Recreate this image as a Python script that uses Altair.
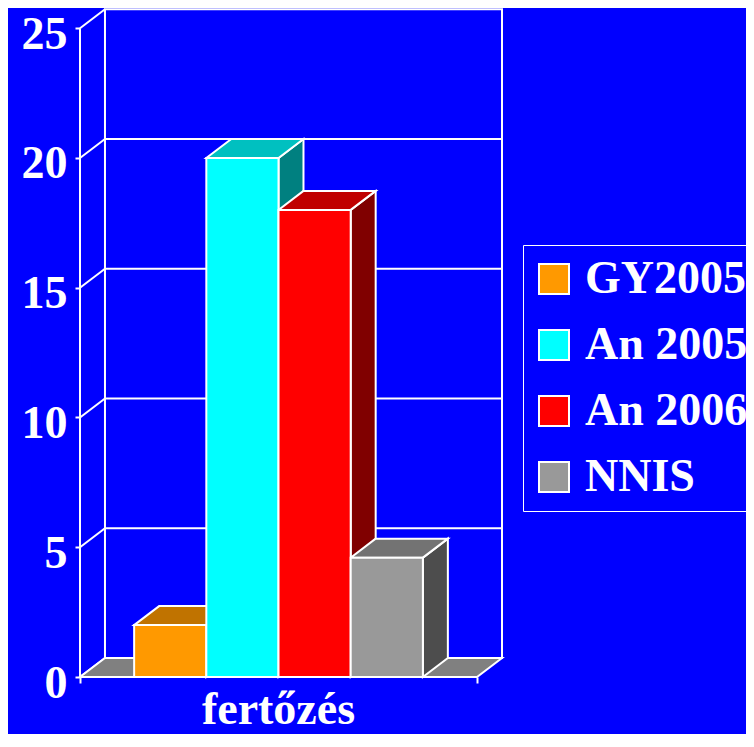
import altair as alt
import pandas as pd

# ---- data ----
series = ["GY2005", "An 2005", "An 2006", "NNIS"]
values = [2.0, 20.0, 18.0, 4.6]
front_colors = ["#FF9900", "#00FFFF", "#FF0000", "#999999"]
top_colors = ["#C07300", "#00C0C0", "#C00000", "#737373"]
side_colors = ["#804D00", "#008080", "#800000", "#4D4D4D"]
y_ticks = [0, 5, 10, 15, 20, 25]
category = "fertőzés"

# ---- 3-D frame geometry (style) ----
GAP = 0.75          # half of the 150% gap, in bar widths
DX = 0.346          # depth shift along x (bar widths)
DY = 0.732          # depth shift along y (value units)
YMAX = 25
n = len(series)
CAT_W = n + 2 * GAP
X_DOMAIN = [0, CAT_W + DX]
Y_DOMAIN = [0, 25.78]

FONT = "Liberation Serif"
BLUE = "#0000FF"

xs = alt.Scale(domain=X_DOMAIN, nice=False, zero=False)
ys = alt.Scale(domain=Y_DOMAIN, nice=False, zero=False)

x_axis = alt.Axis(values=[0, CAT_W], labels=False, domain=False, grid=False,
                  ticks=True, tickColor="white", tickWidth=2, tickSize=6, title=None)
y_axis = alt.Axis(values=y_ticks, domain=False, grid=False, ticks=True,
                  tickColor="white", tickWidth=2, tickSize=5, title=None,
                  labelFont=FONT, labelFontSize=46, labelFontWeight="bold",
                  labelColor="white", labelPadding=8, labelOffset=6)

front = pd.DataFrame({
    "series": series,
    "x0": [GAP + i for i in range(n)],
    "x1": [GAP + i + 1 for i in range(n)],
    "y0": [0] * n,
    "v": values,
})

top_rows, side_rows = [], []
for i, (s, v) in enumerate(zip(series, values)):
    x0, x1 = GAP + i, GAP + i + 1
    top_rows.append({"series": s, "y": v, "x": x0, "x2": x1, "fill": top_colors[i]})
    top_rows.append({"series": s, "y": v + DY, "x": x0 + DX, "x2": x1 + DX, "fill": top_colors[i]})
    side_rows.append({"series": s, "x": x1, "y": v, "y2": 0, "fill": side_colors[i]})
    side_rows.append({"series": s, "x": x1 + DX, "y": v + DY, "y2": DY, "fill": side_colors[i]})
tops = pd.DataFrame(top_rows)
sides = pd.DataFrame(side_rows)

wall = pd.DataFrame({"x": [DX], "x2": [CAT_W + DX], "y": [DY], "y2": [YMAX + DY]})
grid_back = pd.DataFrame({"v": [t + DY for t in y_ticks[1:-1]], "x": DX, "x2": CAT_W + DX})
diag = pd.DataFrame({"y": y_ticks, "y2": [t + DY for t in y_ticks], "x": 0, "x2": DX})
floor = pd.DataFrame({"y": [0, DY], "x": [0, DX], "x2": [CAT_W, CAT_W + DX]})
front_axis = pd.DataFrame({"x": [0], "y": [0], "y2": [YMAX]})
label_df = pd.DataFrame({"label": [category], "x": [CAT_W / 2], "y": [0]})


def X(f):
    return alt.X(f, scale=xs, axis=x_axis)


def Y(f):
    return alt.Y(f, scale=ys, axis=y_axis)


wall_l = alt.Chart(wall).mark_rect(fill=BLUE, stroke="white", strokeWidth=2).encode(
    x=X("x:Q"), x2="x2:Q", y=Y("y:Q"), y2="y2:Q")

grid_l = alt.Chart(grid_back).mark_rule(color="white", strokeWidth=2).encode(
    x=X("x:Q"), x2="x2:Q", y=Y("v:Q"))

diag_l = alt.Chart(diag).mark_rule(color="white", strokeWidth=2).encode(
    x=X("x:Q"), x2="x2:Q", y=Y("y:Q"), y2="y2:Q")

floor_l = alt.Chart(floor).mark_area(orient="horizontal", fill="#808080",
                                     stroke="white", strokeWidth=2).encode(
    y=Y("y:Q"), x=X("x:Q"), x2="x2:Q")

faxis_l = alt.Chart(front_axis).mark_rule(color="white", strokeWidth=2).encode(
    x=X("x:Q"), y=Y("y:Q"), y2="y2:Q")

side_l = alt.Chart(sides).mark_area(orient="vertical", stroke="white", strokeWidth=2).encode(
    x=X("x:Q"), y=Y("y:Q"), y2="y2:Q",
    fill=alt.Fill("fill:N", scale=None), detail="series:N")

top_l = alt.Chart(tops).mark_area(orient="horizontal", stroke="white", strokeWidth=2).encode(
    y=Y("y:Q"), x=X("x:Q"), x2="x2:Q",
    fill=alt.Fill("fill:N", scale=None), detail="series:N")

front_l = alt.Chart(front).mark_rect(stroke="white", strokeWidth=2).encode(
    x=X("x0:Q"), x2="x1:Q", y=Y("y0:Q"), y2="v:Q",
    fill=alt.Fill("series:N", scale=alt.Scale(domain=series, range=front_colors),
                  legend=alt.Legend(orient="none", legendX=443, legendY=237, title=None,
                                    symbolType="square", symbolSize=900,
                                    symbolStrokeColor="white", symbolStrokeWidth=2,
                                    symbolOpacity=1, symbolOffset=-3,
                                    labelFont=FONT, labelFontSize=46, labelFontWeight="bold",
                                    labelColor="white", labelLimit=0, labelOffset=8,
                                    rowPadding=20, padding=11, strokeColor="white")),
)

text_l = alt.Chart(label_df).mark_text(dy=47, baseline="alphabetic", align="center",
                                       fontSize=46, fontWeight="bold", font=FONT,
                                       color="white").encode(
    x=X("x:Q"), y=Y("y:Q"), text="label:N")

chart = alt.layer(wall_l, diag_l, grid_l, floor_l, faxis_l, side_l, top_l, front_l, text_l).properties(
    width=422, height=669,
    background=BLUE,
    autosize=alt.AutoSizeParams(type="none"),
    padding={"left": 72, "top": 0, "right": 244, "bottom": 57},
).configure_view(stroke=None)

chart.save("out.html", embed_options={"renderer": "svg", "actions": False})
